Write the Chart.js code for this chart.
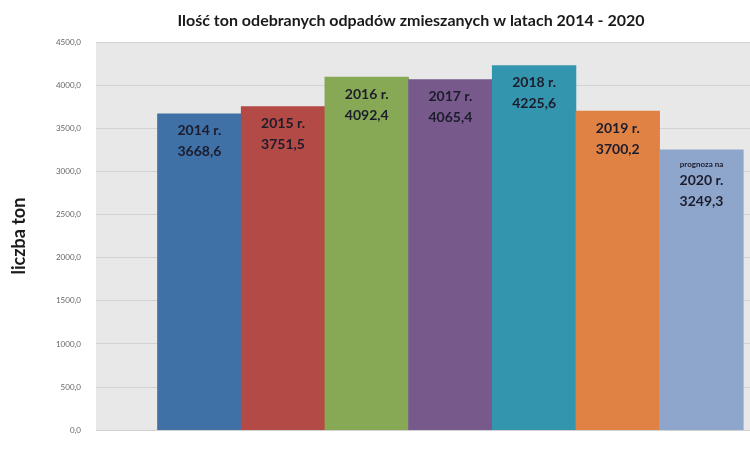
<!DOCTYPE html>
<html>
<head>
<meta charset="utf-8">
<script src="https://cdn.jsdelivr.net/npm/chart.js@4.4.1/dist/chart.umd.min.js"></script>
<style>
  html, body { margin: 0; padding: 0; background: #fff; }
  #wrap { width: 750px; height: 450px; }
</style>
</head>
<body>
<div id="wrap"><canvas id="odpady_chart"></canvas></div>
<script>
const years = ["2014 r.", "2015 r.", "2016 r.", "2017 r.", "2018 r.", "2019 r.", "2020 r."];
const tons = [3668.6, 3751.5, 4092.4, 4065.4, 4225.6, 3700.2, 3249.3];
const notes = ["", "", "", "", "", "", "prognoza na"];
const colors = ["#3f70a6", "#b44a45", "#87a855", "#77598c", "#3396ae", "#e08244", "#8fa6cc"];
const yTicks = [0, 500, 1000, 1500, 2000, 2500, 3000, 3500, 4000, 4500];

const fmt = (v) => v.toFixed(1).replace(".", ",");

// grey plot background
const plotBg = {
  id: "plotBg",
  beforeDraw(chart) {
    const { ctx, chartArea: a } = chart;
    ctx.save();
    ctx.fillStyle = "#e8e8e8";
    ctx.fillRect(a.left, a.top, a.right - a.left, a.bottom - a.top);
    ctx.restore();
  }
};

// title sits right of canvas centre in the original
const topTitle = {
  id: "topTitle",
  afterDraw(chart) {
    const ctx = chart.ctx;
    ctx.save();
    ctx.font = "bold 16px Lato";
    ctx.fillStyle = "#1a1a1a";
    ctx.textAlign = "center";
    ctx.textBaseline = "middle";
    ctx.fillText("Ilość ton odebranych odpadów zmieszanych w latach 2014 - 2020", 411, 21);
    ctx.restore();
  }
};

// labels inside the bars
const barLabels = {
  id: "barLabels",
  afterDatasetsDraw(chart) {
    const ctx = chart.ctx;
    const meta = chart.getDatasetMeta(0);
    ctx.save();
    ctx.fillStyle = "#1c1c2c";
    ctx.textAlign = "center";
    ctx.textBaseline = "middle";
    meta.data.forEach((bar, i) => {
      let y = bar.y + 17;
      if (notes[i]) {
        ctx.font = "bold 8px Lato";
        ctx.fillText(notes[i], bar.x, bar.y + 15);
        y = bar.y + 31;
      }
      ctx.font = "bold 14px Lato";
      ctx.fillText(years[i], bar.x, y);
      ctx.fillText(fmt(tons[i]), bar.x, y + 21);
    });
    ctx.restore();
  }
};

const data = {
  datasets: [
    {
      data: tons.map((v, i) => ({ x: i, y: v })),
      backgroundColor: colors,
      borderWidth: 0,
      barPercentage: 1,
      categoryPercentage: 1,
    },
  ],
};

const config = {
  type: "bar",
  data: data,
  options: {
    responsive: true,
    maintainAspectRatio: false,
    animation: false,
    layout: { padding: { top: 42, bottom: 7, right: 0, left: 0 } },
    plugins: {
      legend: { display: false },
      tooltip: { enabled: false },
    },
    scales: {
      x: {
        type: "linear",
        offset: false,
        min: -1.235,
        max: 6.58,
        display: false,
        afterBuildTicks: (scale) => { scale.ticks = years.map((y, i) => ({ value: i })); },
        grid: { display: false },
      },
      y: {
        min: 0,
        max: 4500,
        afterFit: (scale) => { scale.width = 96; },
        afterBuildTicks: (scale) => { scale.ticks = yTicks.map((v) => ({ value: v })); },
        border: { display: false },
        grid: { color: "#d2d2d2", lineWidth: 1, drawTicks: false },
        ticks: {
          padding: 15,
          color: "#666",
          font: { size: 8, family: "Lato" },
          callback: (v) => fmt(v),
        },
        title: {
          display: true,
          text: "liczba ton",
          color: "#1a1a1a",
          font: { size: 18, weight: "bold", family: "Lato" },
          padding: { top: 8, bottom: 0 },
        },
      },
    },
  },
  plugins: [plotBg, barLabels, topTitle],
};

new Chart(document.getElementById("odpady_chart"), config);
</script>
</body>
</html>
